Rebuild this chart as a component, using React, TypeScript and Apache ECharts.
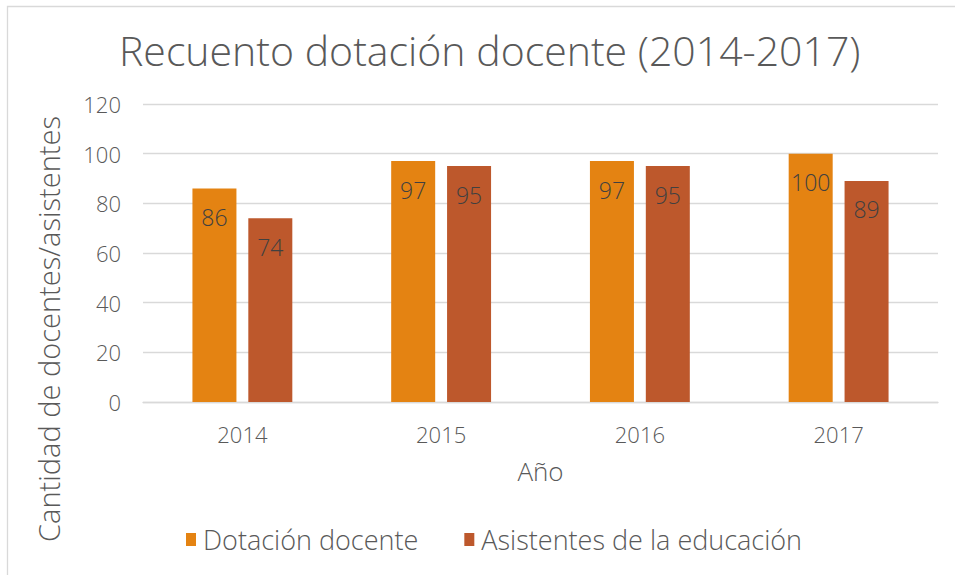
import React, { useEffect, useRef } from "react";
import * as echarts from "echarts";

const categories = ["2014", "2015", "2016", "2017"];
const dotacionDocente = [86, 97, 97, 100];
const asistentesEducacion = [74, 95, 95, 89];
const seriesNames = ["Dotación docente", "Asistentes de la educación"];

const FONT = "'Open Sans', sans-serif";
const W = 300;

export default function App() {
  const ref = useRef<HTMLDivElement>(null);
  useEffect(() => {
    if (!ref.current) return;
    const chart = echarts.init(ref.current, undefined, { renderer: "svg" });
    const labelStyle = {
      show: true,
      position: "insideTop",
      distance: 17,
      fontFamily: FONT,
      fontWeight: W,
      fontSize: 23,
      color: "#404040",
    };
    chart.setOption({
      animation: false,
      backgroundColor: "#fff",
      title: {
        text: "Recuento dotación docente (2014-2017)",
        left: 114,
        top: 24,
        textStyle: { fontFamily: FONT, fontSize: 41, fontWeight: W, color: "#595959" },
      },
      legend: {
        bottom: 17,
        left: 181,
        itemWidth: 10,
        itemHeight: 13,
        itemGap: 46,
        icon: "rect",
        textStyle: { fontFamily: FONT, fontWeight: W, fontSize: 27, color: "#595959", padding: [0, 0, 0, 2] },
        data: seriesNames,
      },
      grid: { left: 143, right: 17, top: 104, bottom: 173 },
      xAxis: {
        type: "category",
        data: categories,
        name: "Año",
        nameLocation: "middle",
        nameGap: 56,
        nameTextStyle: { fontFamily: FONT, fontWeight: W, fontSize: 26, color: "#595959" },
        axisLine: { lineStyle: { color: "#D9D9D9", width: 1.3 } },
        axisTick: { show: false },
        axisLabel: { fontFamily: FONT, fontWeight: W, fontSize: 22, color: "#595959", margin: 21 },
      },
      yAxis: {
        type: "value",
        min: 0,
        max: 120,
        interval: 20,
        axisLine: { show: false },
        axisTick: { show: false },
        axisLabel: { fontFamily: FONT, fontWeight: W, fontSize: 22, color: "#595959", margin: 22 },
        splitLine: { lineStyle: { color: "#D9D9D9", width: 1.3 } },
      },
      graphic: [
        {
          type: "rect",
          left: 5,
          top: 4,
          shape: { width: 1000, height: 700 },
          style: { fill: "none", stroke: "#D9D9D9", lineWidth: 1.3 },
          silent: true,
          z: -1,
        },
        {
          type: "text",
          x: 48,
          y: 329,
          rotation: Math.PI / 2,
          style: {
            text: "Cantidad de docentes/asistentes",
            fontFamily: FONT,
            fontWeight: W,
            fontSize: 29,
            fill: "#595959",
            align: "center",
            verticalAlign: "middle",
          },
        },
      ],
      series: [
        {
          name: seriesNames[0],
          type: "bar",
          data: dotacionDocente,
          barWidth: 44,
          barGap: "27%",
          itemStyle: { color: "#E48312" },
          label: labelStyle,
        },
        {
          name: seriesNames[1],
          type: "bar",
          data: asistentesEducacion,
          barWidth: 44,
          barGap: "27%",
          itemStyle: { color: "#BD582C" },
          label: labelStyle,
        },
      ],
    });
    return () => chart.dispose();
  }, []);
  return <div ref={ref} style={{ width: 955, height: 575, position: "absolute", left: 0, top: 0 }} />;
}
